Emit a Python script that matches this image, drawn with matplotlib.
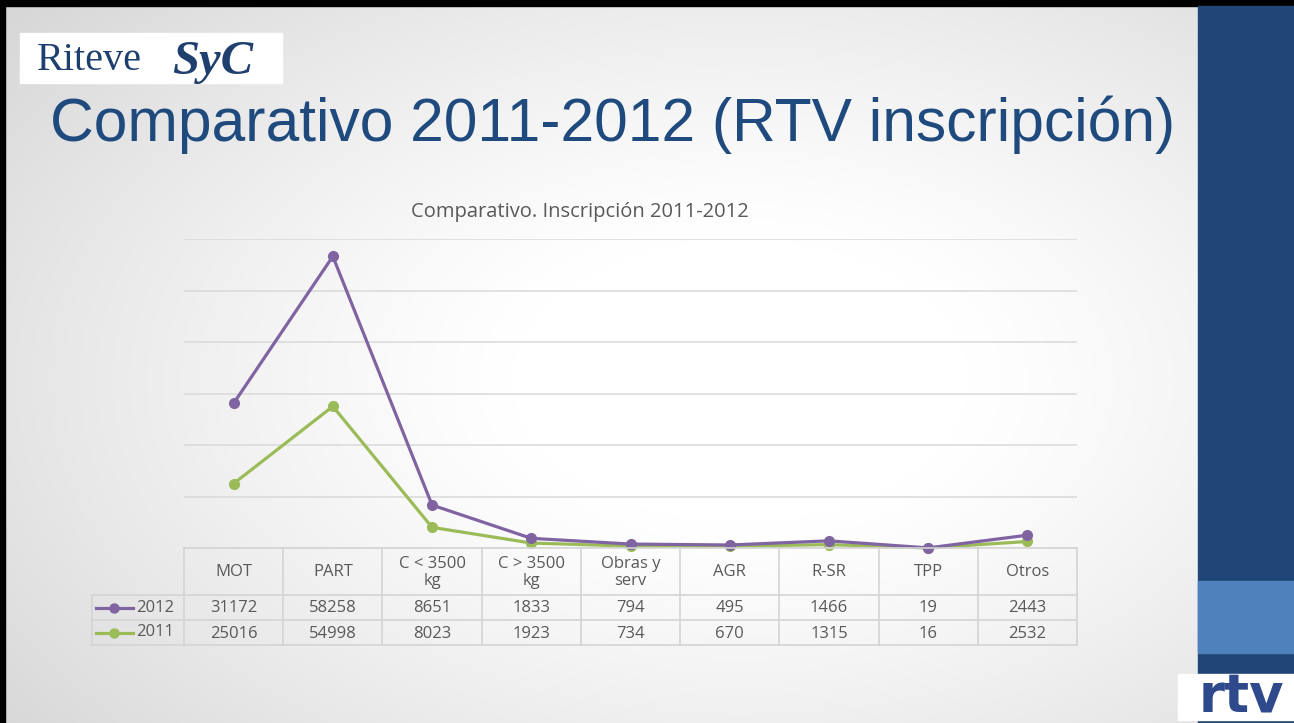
import numpy as np
import matplotlib
matplotlib.use("Agg")
import matplotlib.pyplot as plt
from matplotlib.patches import Rectangle

# ---- data ----
categories = ["MOT", "PART", "C < 3500\nkg", "C > 3500\nkg", "Obras y\nserv", "AGR", "R-SR", "TPP", "Otros"]
years = ["2012", "2011"]
values_2012 = [31172, 58258, 8651, 1833, 794, 495, 1466, 19, 2443]
values_2011 = [25016, 54998, 8023, 1923, 734, 670, 1315, 16, 2532]
y_max = 120000
y_step = 20000

col_2012 = "#8064a2"
col_2011 = "#9bbb59"
txt_gray = "#595959"
grid_gray = "#d9d9d9"
dark_blue = "#1f4677"
light_blue = "#4f81bd"
FONT = "Open Sans"

W, H = 1294, 723
fig = plt.figure(figsize=(W / 100, H / 100), dpi=100)

# ---- background (slide) ----
bg = fig.add_axes([0, 0, 1, 1])
bg.set_xlim(0, W)
bg.set_ylim(H, 0)
bg.axis("off")
yy, xx = np.mgrid[0:H, 0:W]
r = np.sqrt(((xx - 740) / 760.0) ** 2 + ((yy - 380) / 470.0) ** 2)
shade = 1.0 - 0.17 * np.clip(r - 0.3, 0, 1) ** 1.2
img = np.dstack([shade, shade, shade])
bg.imshow(img, extent=(0, W, H, 0), aspect="auto", zorder=0)

# black border
bg.add_patch(Rectangle((0, 0), W, 6, color="black", zorder=1))
bg.add_patch(Rectangle((0, 0), 5, H, color="black", zorder=1))
# right bar
bg.add_patch(Rectangle((1198, 6), W - 1198, H - 6, color=dark_blue, zorder=1))
bg.add_patch(Rectangle((1198, 581), W - 1198, 72, color=light_blue, zorder=2))
# rtv logo box
bg.add_patch(Rectangle((1178, 674), W - 1178, 46, color="white", zorder=3))
bg.text(1241, 696, "rtv", fontsize=38, fontweight="heavy", color="#2e4a8c",
        family="DejaVu Sans", ha="center", va="center", zorder=4)

# Riteve SyC logo
bg.add_patch(Rectangle((20, 33), 262, 50, color="white", zorder=3))
bg.text(37, 61, "Riteve", fontsize=29, color="#1f3f6f", family="Liberation Serif",
        ha="left", va="center", zorder=4)
bg.text(172, 62, "SyC", fontsize=35, color="#1f3f6f", family="Liberation Serif",
        style="italic", fontweight="bold", ha="left", va="center", zorder=4)

# slide title
bg.text(50, 125, "Comparativo 2011-2012 (RTV inscripción)", fontsize=43.6,
        color="#1f4a7e", family="Liberation Sans", ha="left", va="center", zorder=4)

# chart title
bg.text(580, 212, "Comparativo. Inscripción 2011-2012", fontsize=14.5,
        color=txt_gray, family=FONT, ha="center", va="center", zorder=4)

# ---- chart axes ----
x0, x1 = 184, 1077
ytop, ybot = 239, 548
ax = fig.add_axes([x0 / W, 1 - ybot / H, (x1 - x0) / W, (ybot - ytop) / H])
ax.patch.set_alpha(0)
n = len(categories)
x = np.arange(n)
ax.set_xlim(-0.5, n - 0.5)
ax.set_ylim(0, y_max)
for s in ax.spines.values():
    s.set_visible(False)
ax.set_xticks([])
ax.set_yticks(np.arange(0, y_max + 1, y_step))
ax.set_yticklabels([])
ax.tick_params(axis="y", length=0)
ax.grid(axis="y", color=grid_gray, linewidth=1.1)
ax.set_axisbelow(True)

stacked_2011 = np.array(values_2011, dtype=float)
stacked_2012 = stacked_2011 + np.array(values_2012, dtype=float)
ax.plot(x, stacked_2011, color=col_2011, lw=2.3, marker="o", ms=7, zorder=3, clip_on=False)
ax.plot(x, stacked_2012, color=col_2012, lw=2.3, marker="o", ms=7, zorder=4, clip_on=False)

# ---- data table ----
tb = fig.add_axes([0, 0, 1, 1])
tb.set_xlim(0, W)
tb.set_ylim(H, 0)
tb.axis("off")
tb.patch.set_alpha(0)
lab_x0 = 92
r_top, r_h1, r_h2, r_bot = 548, 595, 620, 645
cw = (x1 - x0) / n
lc = "#d4d4d4"
lw = 1.2
tb.plot([x0, x1], [r_top, r_top], color=lc, lw=lw)
for yv in (r_h1, r_h2, r_bot):
    tb.plot([lab_x0, x1], [yv, yv], color=lc, lw=lw)
tb.plot([lab_x0, lab_x0], [r_h1, r_bot], color=lc, lw=lw)
for i in range(n + 1):
    xv = x0 + i * cw
    tb.plot([xv, xv], [r_top, r_bot], color=lc, lw=lw)

fs = 12
for i, cat in enumerate(categories):
    cx = x0 + (i + 0.5) * cw
    tb.text(cx, (r_top + r_h1) / 2 + 1, cat, ha="center", va="center", fontsize=fs,
            color=txt_gray, family=FONT, linespacing=1.15)
    tb.text(cx, (r_h1 + r_h2) / 2 + 1, str(values_2012[i]), ha="center", va="center",
            fontsize=fs, color=txt_gray, family=FONT)
    tb.text(cx, (r_h2 + r_bot) / 2 + 1, str(values_2011[i]), ha="center", va="center",
            fontsize=fs, color=txt_gray, family=FONT)

for yr, col, (ya, yb) in zip(years, [col_2012, col_2011], [(r_h1, r_h2), (r_h2, r_bot)]):
    ym = (ya + yb) / 2
    tb.plot([96, 133], [ym, ym], color=col, lw=2.3)
    tb.plot([114], [ym], marker="o", ms=6.5, color=col)
    tb.text(136, ym, yr, ha="left", va="center", fontsize=fs, color=txt_gray, family=FONT)

fig.savefig("out.png", dpi=100)
